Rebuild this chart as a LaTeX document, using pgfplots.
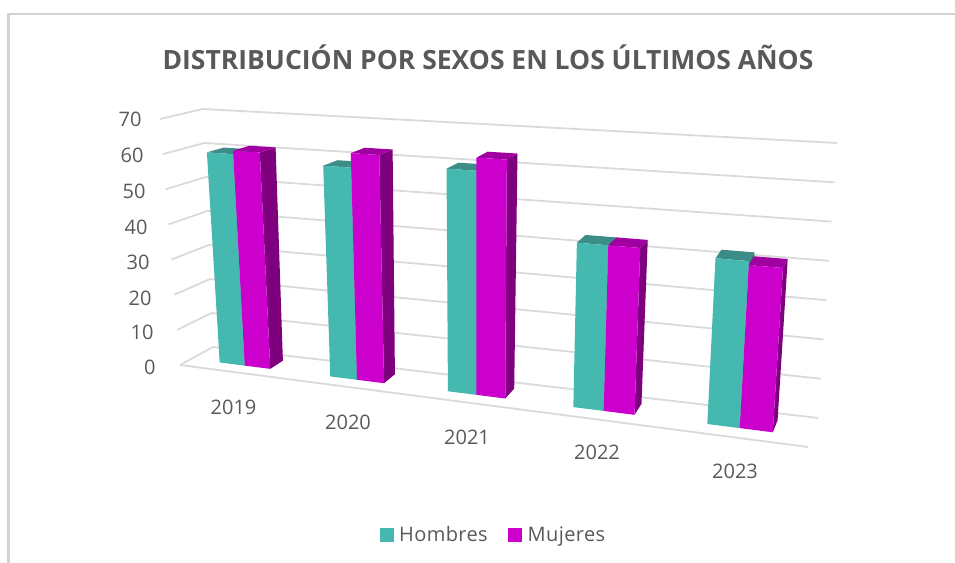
\documentclass[border=0pt]{standalone}
\usepackage{fontspec}
\setmainfont{Open Sans}
\usepackage{pgfplots}
\usepackage{pgfplotstable}
\pgfplotsset{compat=1.18}

\definecolor{texto}{HTML}{595959}
\definecolor{rejilla}{HTML}{DADADA}
\definecolor{marco}{HTML}{D2D2D2}
\definecolor{tealF}{HTML}{45B8B0}
\definecolor{tealT}{HTML}{3C8C88}
\definecolor{tealS}{HTML}{2F7A76}
\definecolor{magF}{HTML}{CC00CC}
\definecolor{magT}{HTML}{A000A0}
\definecolor{magS}{HTML}{7F007F}

% valores del grafico
\pgfplotstableread{
idx year hombres mujeres
0 2019 60 61
1 2020 58.5 62.5
2 2021 60 63.5
3 2022 43 43
4 2023 42 41
}\datos

% caras de una barra en coordenadas unitarias
\pgfplotstableread{
U D H
0 0 0
1 0 0
1 0 1
0 0 1
}\caraFrente
\pgfplotstableread{
U D H
1 0 0
1 1 0
1 1 1
1 0 1
}\caraLado
\pgfplotstableread{
U D H
0 0 1
1 0 1
1 1 1
0 1 1
}\caraTecho
\pgfplotstableread{
U D
0 0
0 1
1 1
}\lineaRejilla

% perspectiva: s=posicion, d=profundidad, v=altura (todo 0..1), en pixeles de la imagen
\pgfmathdeclarefunction{persp}{1}{\pgfmathparse{#1/(1+0.175*(1-#1))}}
\pgfmathdeclarefunction{vistax}{3}{\pgfmathparse{(1-#3)*((1-#2)*((1-#1)*180+#1*808)+#2*((1-#1)*213+#1*818))+#3*((1-#2)*((1-#1)*160+#1*828)+#2*((1-#1)*203+#1*837))}}
\pgfmathdeclarefunction{vistay}{3}{\pgfmathparse{(1-#3)*((1-#2)*((1-#1)*365+#1*447)+#2*((1-#1)*347+#1*418))+#3*((1-#2)*((1-#1)*119+#1*160)+#2*((1-#1)*109+#1*143))}}

\def\anchoBarra{0.0465}
\def\dA{0.34}
\def\dB{0.76}

% #1 cara, #2 color
\newcommand\cara[2]{%
  \addplot[fill=#2,draw=none,forget plot] table[
    x expr={vistax(persp(\uA+\thisrow{U}*\anchoBarra),\dA+\thisrow{D}*(\dB-\dA),\val/70*\thisrow{H})},
    y expr={vistay(persp(\uA+\thisrow{U}*\anchoBarra),\dA+\thisrow{D}*(\dB-\dA),\val/70*\thisrow{H})}
  ] {#1} -- cycle;
}
% #1 fila, #2 columna, #3 desplazamiento, #4-6 colores
\newcommand\barra[6]{%
  \pgfplotstablegetelem{#1}{#2}\of\datos
  \let\val\pgfplotsretval
  \pgfmathsetmacro\uA{(#1+0.5)/5+#3*\anchoBarra}
  \cara{\caraLado}{#5}
  \cara{\caraTecho}{#6}
  \cara{\caraFrente}{#4}
}

\begin{document}
\begin{tikzpicture}
\useasboundingbox (0,0) rectangle (955bp,563bp);
\begin{axis}[
  at={(0,0)},anchor=south west,
  scale only axis,
  width=955bp,height=563bp,
  xmin=0,xmax=955,
  ymin=0,ymax=563,
  y dir=reverse,
  hide axis,
  clip=false,
  font=\fontsize{20bp}{24bp}\selectfont,
  legend columns=2,
  legend style={draw=none,fill=none,at={(axis cs:493.5,535)},anchor=center,
    text=texto,/tikz/every even column/.append style={column sep=18.5bp}},
  legend image code/.code={\fill[#1] (0bp,-6.5bp) rectangle (13bp,6.5bp);},
]
% marco
\addplot[marco,line width=2.5bp,forget plot] coordinates {(8.5,563) (8.5,14) (955,14)};

% rejilla
\pgfplotsinvokeforeach{0,10,...,70}{
  \addplot[rejilla,line width=1.8bp,forget plot] table[
    x expr={vistax(\thisrow{U},\thisrow{D},#1/70)},
    y expr={vistay(\thisrow{U},\thisrow{D},#1/70)}
  ] {\lineaRejilla};
}
\addplot[rejilla,line width=1.8bp,forget plot] coordinates {(180,365) (808,447)};

% barras
\barra{0}{hombres}{-1}{tealF}{tealS}{tealT}
\barra{0}{mujeres}{0}{magF}{magS}{magT}
\barra{1}{hombres}{-1}{tealF}{tealS}{tealT}
\barra{1}{mujeres}{0}{magF}{magS}{magT}
\barra{2}{hombres}{-1}{tealF}{tealS}{tealT}
\barra{2}{mujeres}{0}{magF}{magS}{magT}
\barra{3}{hombres}{-1}{tealF}{tealS}{tealT}
\barra{3}{mujeres}{0}{magF}{magS}{magT}
\barra{4}{hombres}{-1}{tealF}{tealS}{tealT}
\barra{4}{mujeres}{0}{magF}{magS}{magT}

% etiquetas
\node[text=texto,font=\bfseries\fontsize{26.5bp}{30bp}\selectfont] at (axis cs:488,57) {DISTRIBUCIÓN POR SEXOS EN LOS ÚLTIMOS AÑOS};

\node[text=texto,anchor=east] at (axis cs:145,119) {70};
\node[text=texto,anchor=east] at (axis cs:147,155) {60};
\node[text=texto,anchor=east] at (axis cs:149,191) {50};
\node[text=texto,anchor=east] at (axis cs:151,227) {40};
\node[text=texto,anchor=east] at (axis cs:153,262) {30};
\node[text=texto,anchor=east] at (axis cs:155,298) {20};
\node[text=texto,anchor=east] at (axis cs:157,332) {10};
\node[text=texto,anchor=east] at (axis cs:159,367) {0};

\node[text=texto] at (axis cs:233.5,407) {2019};
\node[text=texto] at (axis cs:348,422) {2020};
\node[text=texto] at (axis cs:467,437) {2021};
\node[text=texto] at (axis cs:597,452) {2022};
\node[text=texto] at (axis cs:735,471) {2023};

\addlegendimage{tealF}
\addlegendentry{\hspace{4bp}\addfontfeature{LetterSpace=2}Hombres}
\addlegendimage{magF}
\addlegendentry{\hspace{4bp}\addfontfeature{LetterSpace=2}Mujeres}
\end{axis}
\end{tikzpicture}
\end{document}
